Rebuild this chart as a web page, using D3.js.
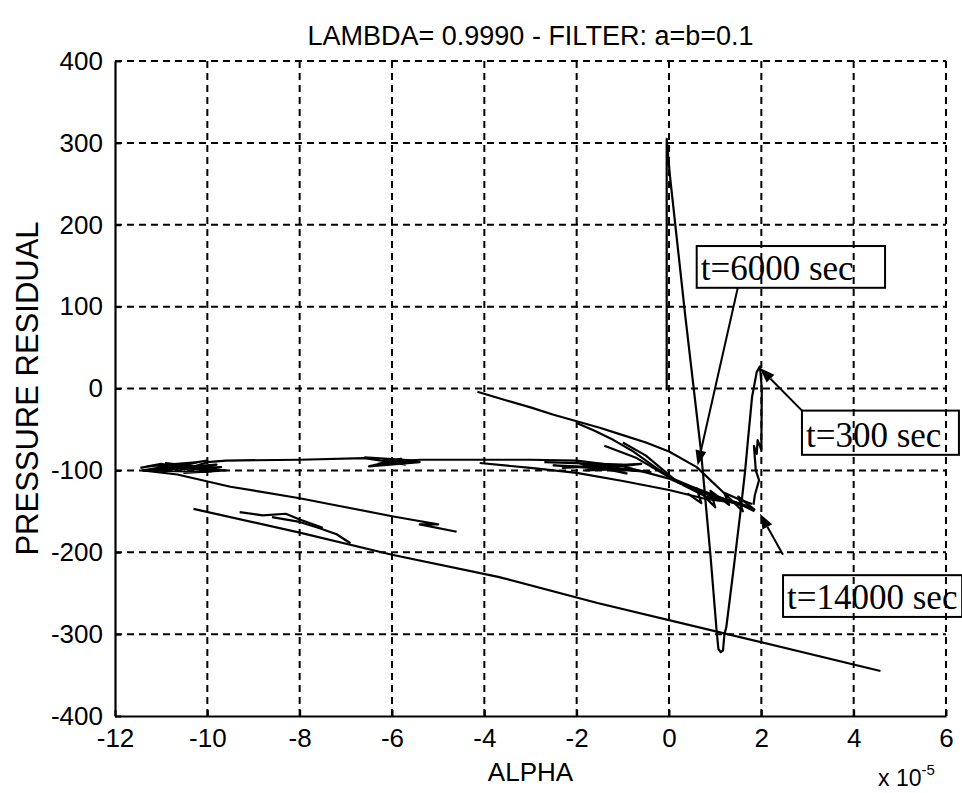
<!DOCTYPE html>
<html><head><meta charset="utf-8">
<script src="https://cdn.jsdelivr.net/npm/d3@7"></script>
<style>
html,body{margin:0;padding:0;background:#fff;}
svg{display:block;}
</style></head>
<body>
<svg id="chart" width="962" height="793"></svg>
<script>
// ---- Axis ticks ----
const xTicks = [-12, -10, -8, -6, -4, -2, 0, 2, 4, 6];
const yTicks = [-400, -300, -200, -100, 0, 100, 200, 300, 400];

// ---- Trajectory pieces (alpha in 1e-5 units, pressure residual) ----
const spikeAlpha = [-0.05, -0.05, 0.02, 0.35, 0.69, 0.9, 1.03, 1.07, 1.12, 1.17, 1.2, 1.24, 1.4, 1.56, 1.65, 1.71, 1.8, 1.9, 1.97, 2.01, 2.0, 1.92, 1.9, 1.84, 1.88, 1.95, 1.86, 1.83];
const spikeResid = [-2, 305, 260, 90, -75, -205, -295, -318, -322, -320, -300, -292, -220, -145, -100, -63, -10, 20, 27, 0, -75, -63, -80, -70, -100, -112, -130, -142];

const upperAlpha = [-4.15, -3.5, -3.0, -2.5, -2.0, -1.5, -1.0, -0.5, 0.0, 0.6, 1.18, 1.5, 1.8];
const upperResid = [-4, -15, -23, -32, -40, -48, -57, -66, -77, -96, -127, -135, -141];

const upper2Alpha = [-2.0, -1.6, -1.2, -0.8, -0.4, 0.0, 0.5, 1.0, 1.6];
const upper2Resid = [-42, -52, -63, -76, -92, -108, -122, -133, -143];

const flatAlpha = [-11.45, -11.0, -10.5, -10.0, -9.6, -8.0, -6.6, -6.0, -5.4, -4.0, -3.0, -2.0, -1.0, 0.0, 0.6, 1.2, 1.85];
const flatResid = [-97, -92, -99, -90, -88, -87, -85, -90, -87, -87, -87, -88, -95, -110, -125, -135, -148];

const lowBandAlpha = [-4.1, -3.0, -2.0, -1.0, 0.0, 0.8, 1.5, 1.85];
const lowBandResid = [-91, -97, -103, -113, -124, -135, -140, -150];

const leftKnotAlpha = [-11.3, -10.2, -11.0, -9.8, -10.8, -9.6, -10.5, -9.7, -11.2, -10.0, -11.4, -9.9, -10.9, -10.3];
const leftKnotResid = [-95, -90, -100, -93, -97, -100, -103, -96, -98, -88, -100, -102, -91, -95];

const midKnotAlpha = [-6.6, -5.5, -6.3, -5.8, -6.5, -5.4, -6.2, -5.7];
const midKnotResid = [-84, -88, -92, -86, -95, -90, -88, -93];

const rightKnotAlpha = [-2.7, -1.0, -2.3, -0.6, -1.8, -0.8, -2.5, -0.4, -2.0, -0.9];
const rightKnotResid = [-90, -93, -97, -92, -100, -98, -94, -102, -91, -104];

const strokeAlpha = [-1.4, -0.7, 0.0, 0.5, 1.2, 1.8];
const strokeResid = [-70, -85, -108, -120, -135, -145];

const stroke2Alpha = [-1.0, -0.5, 0.2, 0.9, 1.6];
const stroke2Resid = [-66, -82, -115, -130, -142];

const hairAlpha = [0.4, 0.7, 0.6, 1.0, 0.9, 1.3, 1.2, 1.6, 1.5, 1.85, 1.4, 0.8, 0.3];
const hairResid = [-128, -140, -122, -145, -125, -142, -128, -150, -132, -148, -138, -132, -118];

const descAlpha = [-11.4, -10.65, -9.5, -8.0, -7.0, -6.0, -5.6, -5.0, -5.4, -4.6];
const descResid = [-100, -105, -120, -134, -145, -156, -160, -166, -166, -175];

const lowAlpha = [-10.3, -8.0, -6.0, -3.7, -1.55, 0.97, 4.58];
const lowResid = [-147, -176, -203, -230, -262, -296, -345];

const branchAAlpha = [-9.3, -8.8, -8.3, -8.0, -7.5];
const branchAResid = [-151, -155, -153, -160, -170];

const branchBAlpha = [-8.6, -8.0, -7.6, -7.2, -6.9];
const branchBResid = [-157, -163, -170, -178, -189];

// ---- Annotations ----
const annoText = ["t=6000 sec", "t=300 sec", "t=14000 sec"];
const annoBoxLeft = [0.60, 2.88, 2.47];
const annoBoxRight = [4.68, 6.28, 6.35];
const annoBoxTop = [174, -27, -228];
const annoBoxBottom = [123, -81, -279];
const arrowFromAlpha = [1.49, 2.88, 2.47];
const arrowFromResid = [123, -27, -203];
const arrowTipAlpha = [0.62, 1.97, 1.97];
const arrowTipResid = [-94, 25, -153];

// ---- Drawing ----
const W = 962, H = 793;
const margin = {left: 115, right: 16, top: 61, bottom: 77};
const svg = d3.select("#chart");
svg.append("rect").attr("width", W).attr("height", H).attr("fill", "#fff");

const x = d3.scaleLinear().domain([-12, 6]).range([margin.left, W - margin.right]);
const y = d3.scaleLinear().domain([-400, 400]).range([H - margin.bottom, margin.top]);

const sans = "'Liberation Sans', Arial, Helvetica, sans-serif";
const serif = "'Liberation Serif', 'Times New Roman', serif";

// grid
const grid = svg.append("g").attr("stroke", "#000").attr("stroke-width", 2).attr("stroke-dasharray", "7,5");
grid.selectAll("line.gx").data(xTicks.filter(d => d !== -12)).join("line")
  .attr("x1", d => x(d)).attr("x2", d => x(d))
  .attr("y1", y(-400)).attr("y2", y(400));
grid.selectAll("line.gy").data(yTicks.filter(d => d !== -400)).join("line")
  .attr("y1", d => y(d)).attr("y2", d => y(d))
  .attr("x1", x(-12)).attr("x2", x(6));

// axes
const fmt = d => String(d);
const xAxis = d3.axisBottom(x).tickValues(xTicks).tickSizeInner(-6).tickSizeOuter(0).tickPadding(13).tickFormat(fmt);
const yAxis = d3.axisLeft(y).tickValues(yTicks).tickSizeInner(-6).tickSizeOuter(0).tickPadding(12).tickFormat(fmt);
const gx = svg.append("g").attr("transform", `translate(0,${y(-400)})`).call(xAxis);
const gy = svg.append("g").attr("transform", `translate(${x(-12)},0)`).call(yAxis);
[gx, gy].forEach(g => {
  g.select(".domain").attr("stroke", "#000").attr("stroke-width", 2.2);
  g.selectAll(".tick line").attr("stroke", "#000").attr("stroke-width", 2);
  g.selectAll(".tick text").attr("fill", "#000").attr("font-family", sans).attr("font-size", 26);
});

// data lines
const line = d3.line().x(d => x(d[0])).y(d => y(d[1]));
const pieces = [
  [spikeAlpha, spikeResid], [upperAlpha, upperResid], [upper2Alpha, upper2Resid],
  [flatAlpha, flatResid], [lowBandAlpha, lowBandResid], [leftKnotAlpha, leftKnotResid],
  [midKnotAlpha, midKnotResid], [rightKnotAlpha, rightKnotResid], [strokeAlpha, strokeResid],
  [stroke2Alpha, stroke2Resid], [hairAlpha, hairResid], [descAlpha, descResid],
  [lowAlpha, lowResid], [branchAAlpha, branchAResid], [branchBAlpha, branchBResid]
];
svg.append("g").selectAll("path").data(pieces).join("path")
  .attr("d", p => line(p[0].map((a, i) => [a, p[1][i]])))
  .attr("fill", "none").attr("stroke", "#000").attr("stroke-width", 2.2)
  .attr("stroke-linejoin", "round");

// annotations
const ann = svg.append("g");
annoText.forEach((t, i) => {
  const bx = x(annoBoxLeft[i]), bx2 = x(annoBoxRight[i]);
  const by = y(annoBoxTop[i]), by2 = y(annoBoxBottom[i]);
  ann.append("rect").attr("x", bx).attr("y", by).attr("width", bx2 - bx).attr("height", by2 - by)
    .attr("fill", "none").attr("stroke", "#000").attr("stroke-width", 2);
  ann.append("text").attr("x", bx + 4).attr("y", by2 - 8).text(t)
    .attr("font-family", serif).attr("font-size", 35).attr("fill", "#000");
  const x1 = x(arrowFromAlpha[i]), y1 = y(arrowFromResid[i]);
  const x2 = x(arrowTipAlpha[i]), y2 = y(arrowTipResid[i]);
  const ang = Math.atan2(y2 - y1, x2 - x1);
  const L = 15, Wd = 5.5;
  const bxp = x2 - L * Math.cos(ang), byp = y2 - L * Math.sin(ang);
  ann.append("line").attr("x1", x1).attr("y1", y1).attr("x2", bxp).attr("y2", byp)
    .attr("stroke", "#000").attr("stroke-width", 2);
  ann.append("path").attr("d", `M${x2},${y2}L${bxp + Wd * Math.sin(ang)},${byp - Wd * Math.cos(ang)}L${bxp - Wd * Math.sin(ang)},${byp + Wd * Math.cos(ang)}Z`)
    .attr("fill", "#000");
});

// titles
svg.append("text").attr("x", (x(-12) + x(6)) / 2).attr("y", 45).attr("text-anchor", "middle")
  .attr("font-family", sans).attr("font-size", 27).text("LAMBDA= 0.9990 - FILTER: a=b=0.1");
svg.append("text").attr("x", (x(-12) + x(6)) / 2).attr("y", 781).attr("text-anchor", "middle")
  .attr("font-family", sans).attr("font-size", 26).text("ALPHA");
svg.append("text").attr("transform", `translate(38,${(y(-400) + y(400)) / 2}) rotate(-90)`)
  .attr("text-anchor", "middle").attr("font-family", sans).attr("font-size", 31).text("PRESSURE RESIDUAL");
const mult = svg.append("text").attr("x", 878).attr("y", 786).attr("font-family", sans).attr("font-size", 23);
mult.append("tspan").text("x 10");
mult.append("tspan").attr("dy", -11).attr("font-size", 15).text("-5");
</script>
</body></html>
